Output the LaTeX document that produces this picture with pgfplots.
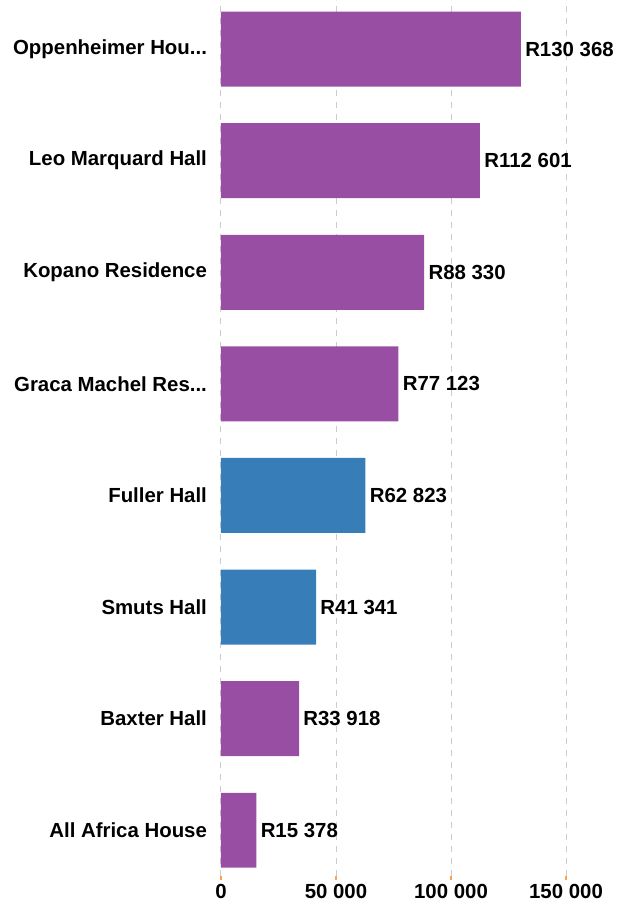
\documentclass[border=0pt]{standalone}
\usepackage{fontspec}
\setmainfont{Liberation Sans}
\usepackage{pgfplots}
\pgfplotsset{compat=1.18}

\definecolor{respurple}{RGB}{152,78,163}
\definecolor{resblue}{RGB}{55,126,184}
\definecolor{tickorange}{RGB}{255,160,80}

\begin{document}
\begin{tikzpicture}
\begin{axis}[
    name=ax,
    xbar,
    bar shift=0pt,
    bar width=0.672,
    scale only axis,
    width=198.5pt, height=438pt,
    xmin=0, xmax=172600,
    ymin=-0.41, ymax=7.44,
    clip=false,
    axis line style={draw=none},
    xtick={0,50000,100000,150000},
    xticklabels={0,50 000,100 000,150 000},
    ytick={0,1,2,3,4,5,6,7},
    yticklabels={{All Africa House},{Baxter Hall},{Smuts Hall},{Fuller Hall},{Graca Machel Res{.}{.}{.}},{Kopano Residence},{Leo Marquard Hall},{Oppenheimer Hou{.}{.}{.}}},
    tick label style={font=\bfseries\fontsize{10.2}{12}\selectfont, text=black},
    yticklabel style={xshift=-1.5pt},
    xticklabel style={yshift=1.5pt},
    ytick style={draw=none},
    xtick style={draw=tickorange, line width=0.6pt},
    tick align=outside,
    major tick length=2pt,
    xmajorgrids=true,
    grid style={gray!40, dashed, line width=0.5pt},
    point meta=explicit symbolic,
    nodes near coords,
    every node near coord/.append style={anchor=west, inner sep=2pt, font=\bfseries\fontsize{10.2}{12}\selectfont, text=black},
]
\addplot[fill=respurple, draw=none] coordinates {
    (130368,7) [R130 368]
    (112601,6) [R112 601]
    (88330,5) [R88 330]
    (77123,4) [R77 123]
    (33918,1) [R33 918]
    (15378,0) [R15 378]
};
\addplot[fill=resblue, draw=none] coordinates {
    (62823,3) [R62 823]
    (41341,2) [R41 341]
};
\end{axis}
\pgfresetboundingbox
\path[use as bounding box] ([xshift=-110.5pt,yshift=-15pt]ax.south west) rectangle (ax.north east);
\end{tikzpicture}
\end{document}
